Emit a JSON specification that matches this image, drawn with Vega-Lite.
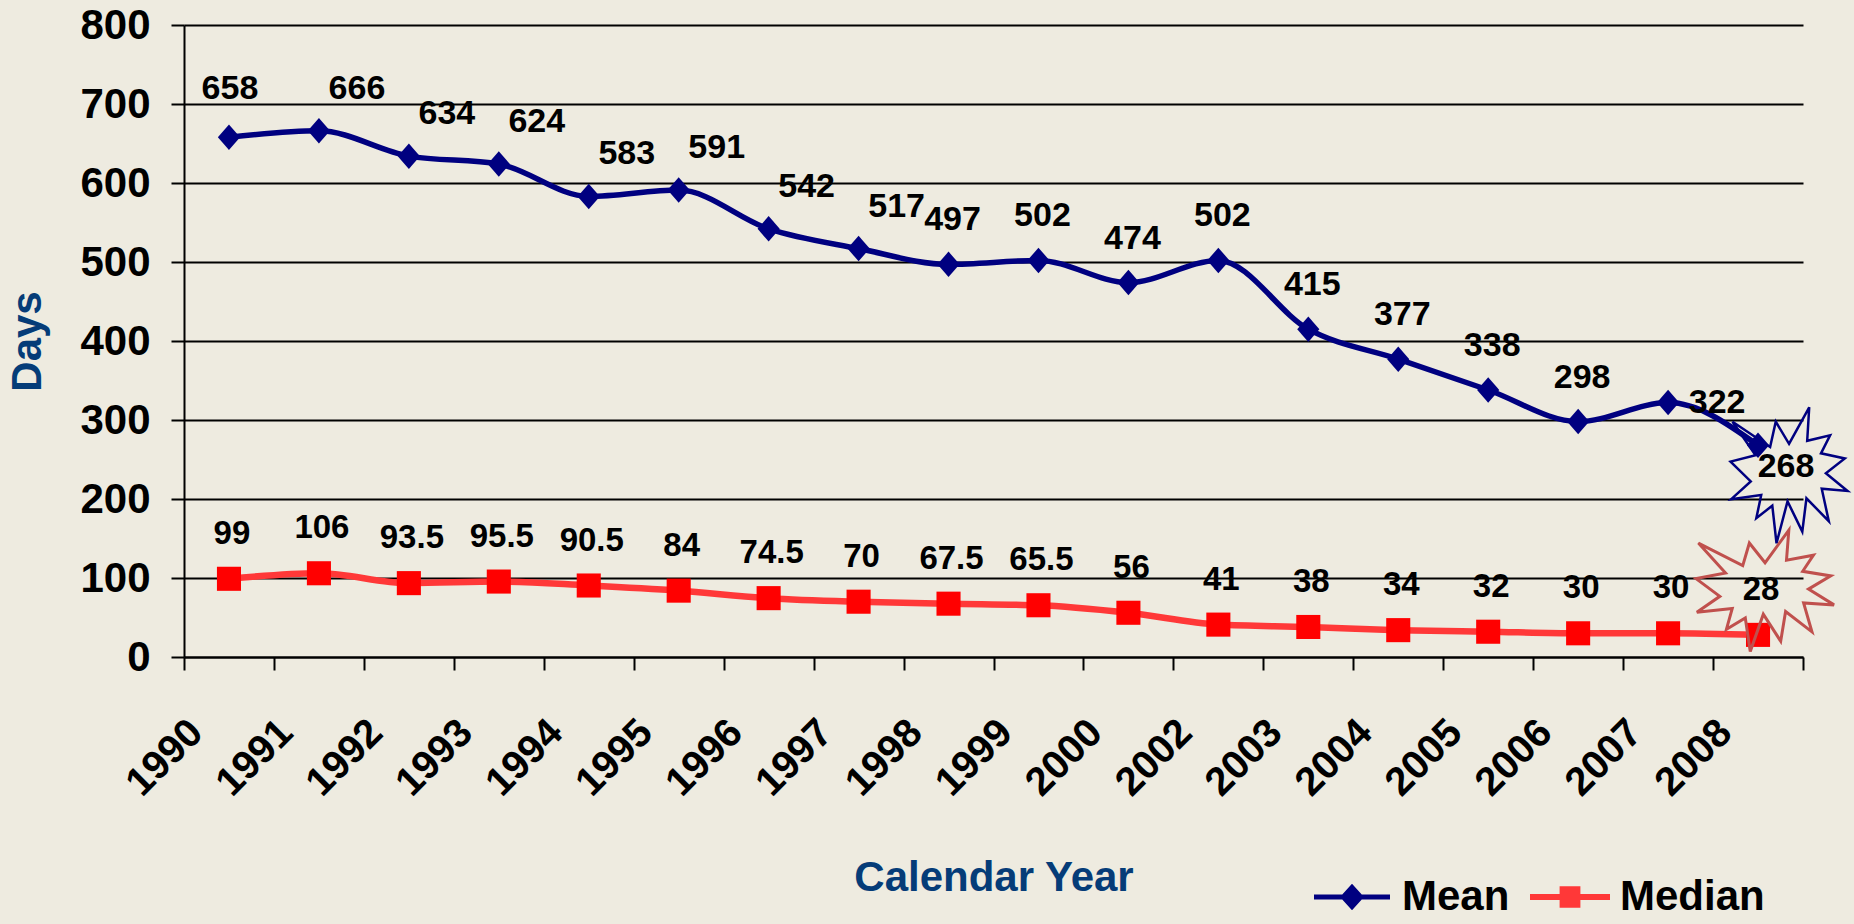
{
  "$schema": "https://vega.github.io/schema/vega-lite/v6.json",
  "width": 1619,
  "height": 632,
  "autosize": {"type": "none"},
  "padding": {"left": 184, "top": 25, "right": 51, "bottom": 267},
  "background": "#EEEBE0",
  "config": {
    "view": {"stroke": null},
    "font": "Liberation Sans",
    "axis": {"labelFont": "Liberation Sans", "titleFont": "Liberation Sans", "labelColor": "black", "domainColor": "black", "tickColor": "black", "gridColor": "black", "domainWidth": 2, "tickWidth": 2, "gridWidth": 2, "labelFontWeight": "bold", "titleFontWeight": "bold", "titleColor": "#053C78"},
    "legend": {"labelFont": "Liberation Sans", "labelFontSize": 42, "labelFontWeight": "bold", "labelColor": "black"}
  },
  "data": {
    "values": [
      {"year": "1990", "series": "Mean", "days": 658}, {"year": "1991", "series": "Mean", "days": 666},
      {"year": "1992", "series": "Mean", "days": 634}, {"year": "1993", "series": "Mean", "days": 624},
      {"year": "1994", "series": "Mean", "days": 583}, {"year": "1995", "series": "Mean", "days": 591},
      {"year": "1996", "series": "Mean", "days": 542}, {"year": "1997", "series": "Mean", "days": 517},
      {"year": "1998", "series": "Mean", "days": 497}, {"year": "1999", "series": "Mean", "days": 502},
      {"year": "2000", "series": "Mean", "days": 474}, {"year": "2002", "series": "Mean", "days": 502},
      {"year": "2003", "series": "Mean", "days": 415}, {"year": "2004", "series": "Mean", "days": 377},
      {"year": "2005", "series": "Mean", "days": 338}, {"year": "2006", "series": "Mean", "days": 298},
      {"year": "2007", "series": "Mean", "days": 322}, {"year": "2008", "series": "Mean", "days": 268},
      {"year": "1990", "series": "Median", "days": 99}, {"year": "1991", "series": "Median", "days": 106},
      {"year": "1992", "series": "Median", "days": 93.5}, {"year": "1993", "series": "Median", "days": 95.5},
      {"year": "1994", "series": "Median", "days": 90.5}, {"year": "1995", "series": "Median", "days": 84},
      {"year": "1996", "series": "Median", "days": 74.5}, {"year": "1997", "series": "Median", "days": 70},
      {"year": "1998", "series": "Median", "days": 67.5}, {"year": "1999", "series": "Median", "days": 65.5},
      {"year": "2000", "series": "Median", "days": 56}, {"year": "2002", "series": "Median", "days": 41},
      {"year": "2003", "series": "Median", "days": 38}, {"year": "2004", "series": "Median", "days": 34},
      {"year": "2005", "series": "Median", "days": 32}, {"year": "2006", "series": "Median", "days": 30},
      {"year": "2007", "series": "Median", "days": 30}, {"year": "2008", "series": "Median", "days": 28}
    ]
  },
  "encoding": {
    "x": {
      "field": "year", "type": "ordinal",
      "scale": {"type": "band", "paddingInner": 0, "paddingOuter": 0},
      "axis": {"title": "Calendar Year", "titleFontSize": 42, "titlePadding": 54, "labelAngle": -45, "labelAlign": "right", "labelBaseline": "middle", "labelFontSize": 40, "labelOffset": -33, "labelPadding": 56, "tickSize": 13, "tickBand": "extent", "grid": false, "labelOverlap": false, "labelBound": false}
    },
    "y": {
      "field": "days", "type": "quantitative",
      "scale": {"domain": [0, 800], "nice": false},
      "axis": {"title": "Days", "titleFontSize": 42, "titlePadding": 30, "values": [0, 100, 200, 300, 400, 500, 600, 700, 800], "labelFontSize": 42, "labelPadding": 21, "tickSize": 13, "grid": true}
    }
  },
  "layer": [
    {
      "transform": [{"filter": "datum.series === 'Median'"}],
      "mark": {"type": "line", "strokeWidth": 6.5, "interpolate": "monotone"},
      "encoding": {
        "color": {"field": "series", "type": "nominal", "scale": {"domain": ["Mean", "Median"], "range": ["#000080", "#FF3838"]},
          "legend": {"title": null, "orient": "none", "direction": "horizontal", "legendX": 1128, "legendY": 832, "padding": 0, "symbolSize": 6400, "labelOffset": 10, "columnPadding": 20,
            "encode": {"symbols": {"update": {
              "shape": {"signal": "datum.value === 'Mean' ? 'M-0.95,-0.0625L0.95,-0.0625L0.95,0.0625L-0.95,0.0625Z M0,-0.33L0.3,0L0,0.33L-0.3,0Z' : 'M-1,-0.075L1,-0.075L1,0.075L-1,0.075Z M-0.26,-0.27L0.26,-0.27L0.26,0.27L-0.26,0.27Z'"},
              "fill": {"scale": "color", "field": "value"},
              "strokeWidth": {"value": 0},
              "opacity": {"value": 1}
            }}}}}
      }
    },
    {
      "transform": [{"filter": "datum.series === 'Mean'"}],
      "mark": {"type": "line", "strokeWidth": 5.5, "interpolate": "monotone"},
      "encoding": {
        "color": {"field": "series", "type": "nominal", "scale": {"domain": ["Mean", "Median"], "range": ["#000080", "#FF3838"]},
          "legend": {"title": null, "orient": "none", "direction": "horizontal", "legendX": 1128, "legendY": 832, "padding": 0, "symbolSize": 6400, "labelOffset": 10, "columnPadding": 20,
            "encode": {"symbols": {"update": {
              "shape": {"signal": "datum.value === 'Mean' ? 'M-0.95,-0.0625L0.95,-0.0625L0.95,0.0625L-0.95,0.0625Z M0,-0.33L0.3,0L0,0.33L-0.3,0Z' : 'M-1,-0.075L1,-0.075L1,0.075L-1,0.075Z M-0.26,-0.27L0.26,-0.27L0.26,0.27L-0.26,0.27Z'"},
              "fill": {"scale": "color", "field": "value"},
              "strokeWidth": {"value": 0},
              "opacity": {"value": 1}
            }}}}}
      }
    },
    {
      "transform": [{"filter": "datum.series === 'Mean'"}],
      "mark": {"type": "point", "filled": true, "size": 650, "opacity": 1, "strokeWidth": 0, "color": "#000080", "shape": "M0,-1L0.87,0L0,1L-0.87,0Z"},
      "encoding": {}
    },
    {
      "transform": [{"filter": "datum.series === 'Median'"}],
      "mark": {"type": "point", "filled": true, "size": 580, "opacity": 1, "strokeWidth": 0, "color": "#FF0000", "shape": "square"},
      "encoding": {}
    },
    {
      "transform": [{"filter": "datum.series === 'Mean' && datum.year === '2008'"}],
      "mark": {"type": "point", "filled": false, "size": 18496, "stroke": "#000080", "strokeWidth": 2.5, "opacity": 1, "xOffset": 31, "yOffset": 30,
        "shape": "M0,-0.463L0.297,-1L0.267,-0.507L0.604,-0.587L0.47,-0.323L0.82,-0.247L0.542,-0.03L0.86,0.231L0.481,0.198L0.585,0.675L0.256,0.339L0.195,0.828L-0.022,0.383L-0.184,1L-0.246,0.447L-0.481,0.631L-0.409,0.29L-0.85,0.351L-0.563,0.09L-0.86,-0.202L-0.492,-0.295L-0.831,-0.788L-0.278,-0.415L-0.195,-0.788Z"},
      "encoding": {}
    },
    {
      "transform": [{"filter": "datum.series === 'Median' && datum.year === '2008'"}],
      "mark": {"type": "point", "filled": false, "size": 19044, "stroke": "#C0504D", "strokeWidth": 3, "opacity": 1, "xOffset": 7, "yOffset": -44,
        "shape": "M0,-0.407L0.345,-0.88L0.311,-0.446L0.702,-0.517L0.546,-0.284L0.953,-0.217L0.63,-0.026L1,0.203L0.559,0.174L0.68,0.594L0.298,0.298L0.227,0.729L-0.025,0.337L-0.214,0.88L-0.286,0.393L-0.559,0.555L-0.475,0.255L-0.988,0.309L-0.655,0.079L-1,-0.178L-0.572,-0.26L-0.966,-0.693L-0.323,-0.365L-0.227,-0.693Z"},
      "encoding": {}
    },
    {
      "transform": [{"filter": "datum.series === 'Mean' && datum.year === '1990'"}],
      "mark": {"type": "text", "fontSize": 34, "fontWeight": "bold", "font": "Liberation Sans", "color": "black", "align": "center", "baseline": "middle", "dx": 1, "dy": -48},
      "encoding": {"text": {"field": "days", "type": "quantitative"}}
    },
    {
      "transform": [{"filter": {"field": "year", "oneOf": ["1991", "1992", "1993", "1994", "1995", "1996", "1997"]}}, {"filter": "datum.series === 'Mean'"}],
      "mark": {"type": "text", "fontSize": 34, "fontWeight": "bold", "font": "Liberation Sans", "color": "black", "align": "center", "baseline": "middle", "dx": 38, "dy": -42},
      "encoding": {"text": {"field": "days", "type": "quantitative"}}
    },
    {
      "transform": [{"filter": {"field": "year", "oneOf": ["1998", "1999", "2000", "2002", "2003", "2004", "2005", "2006"]}}, {"filter": "datum.series === 'Mean'"}],
      "mark": {"type": "text", "fontSize": 34, "fontWeight": "bold", "font": "Liberation Sans", "color": "black", "align": "center", "baseline": "middle", "dx": 4, "dy": -44},
      "encoding": {"text": {"field": "days", "type": "quantitative"}}
    },
    {
      "transform": [{"filter": "datum.series === 'Mean' && datum.year === '2007'"}],
      "mark": {"type": "text", "fontSize": 34, "fontWeight": "bold", "font": "Liberation Sans", "color": "black", "align": "center", "baseline": "middle", "dx": 49, "dy": 0},
      "encoding": {"text": {"field": "days", "type": "quantitative"}}
    },
    {
      "transform": [{"filter": "datum.series === 'Mean' && datum.year === '2008'"}],
      "mark": {"type": "text", "fontSize": 34, "fontWeight": "bold", "font": "Liberation Sans", "color": "black", "align": "center", "baseline": "middle", "dx": 28, "dy": 22},
      "encoding": {"text": {"field": "days", "type": "quantitative"}}
    },
    {
      "transform": [{"filter": "datum.series === 'Median'"}],
      "mark": {"type": "text", "fontSize": 33, "fontWeight": "bold", "font": "Liberation Sans", "color": "black", "align": "center", "baseline": "middle", "dx": 3, "dy": -45},
      "encoding": {"text": {"field": "days", "type": "quantitative"}}
    }
  ]
}
